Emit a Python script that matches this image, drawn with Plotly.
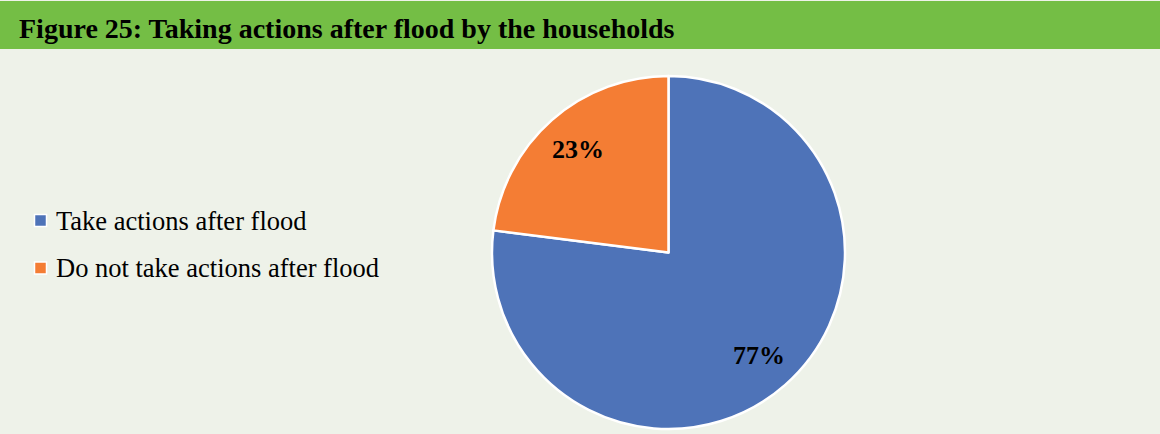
import math
import plotly.graph_objects as go

# Chart content
title_text = "Figure 25: Taking actions after flood by the households"
labels = ["Take actions after flood", "Do not take actions after flood"]
values = [77, 23]
colors = ["#4E73B8", "#F47D34"]

# Canvas / layout constants (pixels)
W, H = 1160, 434
BG = "#EEF2E9"
HEADER = "#74BE45"
HEADER_H = 49
SERIF = "Times New Roman, Liberation Serif, serif"

# Pie geometry in pixels
cx, cy, r = 668.5, 252.5, 176.5


def px(x):
    return x / W


def py(y):
    return 1 - y / H


fig = go.Figure()

fig.add_trace(go.Pie(
    labels=labels,
    values=values,
    sort=False,
    direction="clockwise",
    rotation=0,
    marker=dict(colors=colors, line=dict(color="white", width=2.5)),
    textinfo="none",
    hoverinfo="label+percent",
    showlegend=False,
    domain=dict(x=[px(cx - r), px(cx + r)], y=[py(cy + r), py(cy - r)]),
))

annotations = []
shapes = []

# Header bar with title
shapes.append(dict(type="rect", xref="paper", yref="paper",
                   x0=0, x1=1, y0=py(HEADER_H), y1=py(1),
                   fillcolor=HEADER, line=dict(width=0), layer="below"))
annotations.append(dict(text=f"<b>{title_text}</b>", xref="paper", yref="paper",
                        x=px(17), y=py(29), xanchor="left", yanchor="middle",
                        showarrow=False, font=dict(family=SERIF, size=28, color="black")))

# Percentage labels placed at each slice's mid-angle
total = sum(values)
start = 0.0
for v in values:
    frac = v / total
    mid = (start + frac / 2) * 2 * math.pi
    lx = cx + 0.775 * r * math.sin(mid)
    ly = cy - 0.775 * r * math.cos(mid)
    annotations.append(dict(text=f"<b>{round(frac * 100)}%</b>", xref="paper", yref="paper",
                            x=px(lx), y=py(ly), xanchor="center", yanchor="middle",
                            showarrow=False, font=dict(family=SERIF, size=26, color="black")))
    start += frac

# Legend drawn on the left
legend_rows = [220.5, 268]
for lab, col, ry in zip(labels, colors, legend_rows):
    shapes.append(dict(type="rect", xref="paper", yref="paper",
                       x0=px(34.5), x1=px(46.5), y0=py(ry + 6), y1=py(ry - 6),
                       fillcolor=col, line=dict(color="white", width=1.5)))
    annotations.append(dict(text=lab, xref="paper", yref="paper",
                            x=px(54), y=py(ry), xanchor="left", yanchor="middle",
                            showarrow=False, font=dict(family=SERIF, size=26.5, color="black")))

fig.update_layout(
    width=W, height=H,
    margin=dict(l=0, r=0, t=0, b=0),
    paper_bgcolor=BG,
    plot_bgcolor=BG,
    shapes=shapes,
    annotations=annotations,
)

fig.write_html("out.html")
